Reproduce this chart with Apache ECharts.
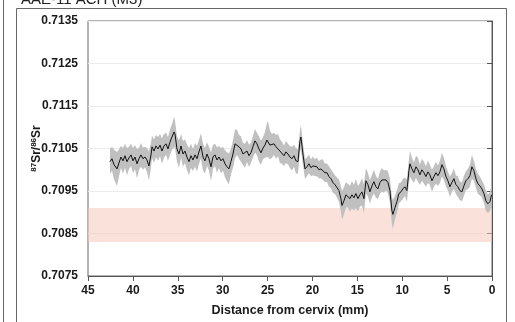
<!DOCTYPE html>
<html>
<head>
<meta charset="utf-8">
<script src="https://cdn.jsdelivr.net/npm/echarts@6/dist/echarts.min.js"></script>
<style>
html,body{margin:0;padding:0;background:#fff;}
#c{width:515px;height:322px;}
</style>
</head>
<body>
<div id="c"></div>
<script>
// Distance from cervix (mm)
var distance = [42.55,42.33,42.10,41.77,41.55,41.33,41.10,40.88,40.66,40.43,
40.21,39.99,39.77,39.54,39.32,39.10,38.88,38.65,38.43,38.21,
37.98,37.87,37.65,37.43,37.20,36.98,36.76,36.54,36.31,36.09,
35.87,35.65,35.42,35.31,35.09,34.87,34.64,34.42,34.20,33.98,
33.75,33.53,33.31,33.08,32.86,32.64,32.42,32.19,31.97,31.75,
31.53,31.30,31.08,30.86,30.63,30.41,30.19,29.97,29.74,29.52,
29.30,29.08,28.85,28.63,28.41,28.18,27.96,27.74,27.52,27.29,
27.07,26.85,26.63,26.40,26.18,25.96,25.73,25.51,25.29,25.07,
24.96,24.73,24.51,24.29,24.06,23.84,23.62,23.40,23.17,22.95,
22.73,22.51,22.28,22.06,21.84,21.61,21.39,21.28,21.06,20.83,
20.61,20.39,20.17,19.94,19.72,19.50,19.28,19.05,18.83,18.61,
18.38,18.16,17.94,17.72,17.49,17.27,17.05,16.83,16.71,16.49,
16.27,16.05,15.82,15.60,15.38,15.16,14.93,14.71,14.49,14.26,
14.04,13.82,13.60,13.37,13.15,12.93,12.71,12.48,12.26,12.04,
11.81,11.59,11.37,11.15,11.04,10.81,10.59,10.37,10.14,9.92,
9.70,9.48,9.25,9.14,8.92,8.70,8.47,8.25,8.03,7.81,
7.58,7.36,7.14,6.92,6.69,6.47,6.25,6.02,5.80,5.58,
5.36,5.13,4.91,4.69,4.47,4.24,4.02,3.80,3.58,3.35,
3.13,2.91,2.68,2.46,2.24,2.02,1.79,1.57,1.35,1.12,
0.90,0.68,0.46,0.23,0.05];

// 87Sr/86Sr ratio
var ratio = [0.71019,0.71026,0.71012,0.71002,0.71016,0.71030,0.71021,0.71033,0.71019,0.71028,
0.71035,0.71021,0.71030,0.71014,0.71026,0.71035,0.71026,0.71030,0.71023,0.71009,
0.71035,0.71054,0.71044,0.71056,0.71049,0.71058,0.71044,0.71056,0.71061,0.71049,
0.71065,0.71077,0.71089,0.71084,0.71049,0.71037,0.71056,0.71037,0.71044,0.71030,
0.71019,0.71033,0.71023,0.71035,0.71026,0.71042,0.71056,0.71030,0.71021,0.71037,
0.71026,0.71007,0.71030,0.71035,0.71023,0.71030,0.71021,0.71026,0.71014,0.71007,
0.71002,0.71019,0.71037,0.71061,0.71065,0.71054,0.71049,0.71037,0.71033,0.71044,
0.71033,0.71040,0.71054,0.71068,0.71061,0.71049,0.71040,0.71051,0.71058,0.71070,
0.71072,0.71058,0.71056,0.71061,0.71054,0.71058,0.71044,0.71040,0.71033,0.71042,
0.71037,0.71030,0.71026,0.71033,0.71021,0.71019,0.71068,0.71077,0.71037,0.71002,
0.71007,0.71014,0.71005,0.71009,0.71005,0.71007,0.71000,0.71002,0.71000,0.70993,
0.70993,0.70984,0.70979,0.70970,0.70965,0.70958,0.70951,0.70932,0.70916,0.70927,
0.70941,0.70939,0.70932,0.70941,0.70934,0.70944,0.70932,0.70941,0.70948,0.70932,
0.70974,0.70965,0.70948,0.70962,0.70972,0.70960,0.70955,0.70970,0.70976,0.70972,
0.70976,0.70970,0.70951,0.70904,0.70895,0.70911,0.70925,0.70944,0.70948,0.70955,
0.70960,0.70951,0.70998,0.71014,0.71002,0.70993,0.71007,0.71000,0.70988,0.71000,
0.70993,0.70984,0.70995,0.70988,0.70974,0.70984,0.70993,0.70986,0.70995,0.71012,
0.71002,0.70984,0.70974,0.70960,0.70970,0.70979,0.70965,0.70960,0.70951,0.70948,
0.70962,0.70974,0.70979,0.70986,0.71007,0.70998,0.70979,0.70967,0.70962,0.70955,
0.70944,0.70927,0.70920,0.70925,0.70941];

// 2SE half-width, in units of 1e-4
var err = [3.0,2.8,3.5,4.0,3.2,2.6,3.0,2.8,3.2,2.6,
2.6,3.0,2.8,3.4,2.6,2.8,2.6,2.4,2.8,3.4,
3.0,2.6,2.8,2.6,2.8,2.6,3.0,2.8,2.6,2.8,
3.0,3.0,3.6,3.2,3.0,3.2,2.8,3.0,2.8,3.0,
3.2,2.8,2.6,2.8,3.0,2.8,3.0,3.2,3.0,2.8,
2.8,3.4,2.8,2.6,3.0,2.6,3.0,2.8,3.2,3.4,
3.6,3.0,3.2,3.4,3.0,2.8,3.0,2.6,2.8,2.6,
2.6,2.4,2.6,2.8,2.6,3.0,2.8,2.6,3.0,4.0,
4.2,3.4,2.8,2.6,2.8,2.6,2.8,2.6,2.4,2.6,
2.4,2.6,2.8,2.6,3.0,2.8,2.6,2.8,2.6,2.4,
2.2,2.2,2.0,2.2,2.0,2.2,2.0,2.2,2.4,2.2,
2.2,2.4,2.2,2.4,2.2,2.4,2.6,3.0,3.4,3.2,
3.0,2.8,3.0,3.2,3.0,3.4,3.0,2.8,3.2,3.4,
3.0,2.8,2.8,2.6,2.8,2.6,2.4,2.6,2.8,2.6,
2.4,2.6,2.8,3.2,3.4,2.8,2.6,2.4,2.2,2.4,
2.2,2.6,2.8,3.0,2.6,2.4,2.6,2.8,2.4,2.6,
2.6,2.4,2.6,2.4,2.6,2.4,2.6,2.4,2.6,2.8,
2.6,2.4,2.2,2.4,2.2,2.4,2.2,2.4,2.2,2.2,
2.4,2.2,2.4,2.6,2.8,2.4,2.2,2.4,2.2,2.0,
2.2,2.4,2.2,2.2,2.4];

// Local bioavailable range
var bandRange = [0.7083, 0.7091];
var yTicks = [0.7075, 0.7085, 0.7095, 0.7105, 0.7115, 0.7125, 0.7135];
var xTicks = [45, 40, 35, 30, 25, 20, 15, 10, 5, 0];
var titleText = 'AAE-11 ACH (M3)';

var lineData = [];
for (var i = 0; i < distance.length; i++) lineData.push([distance[i], ratio[i]]);

var chart = echarts.init(document.getElementById('c'), null, {renderer: 'canvas'});
var font = '"Liberation Sans", Arial, sans-serif';
chart.setOption({
  animation: false,
  backgroundColor: '#fff',
  title: {
    text: titleText, left: 16, top: -13,
    textStyle: {fontFamily: font, fontSize: 15, fontWeight: 'normal', color: '#222'}
  },
  graphic: [
    {type: 'rect', shape: {x: 16.5, y: 8.5, width: 490, height: 330}, style: {fill: null, stroke: '#666', lineWidth: 1}, z: -1},
    {type: 'line', shape: {x1: 3.5, y1: 0, x2: 3.5, y2: 322}, style: {stroke: '#666', lineWidth: 1}, z: -1}
  ],
  grid: {left: 88, right: 23, top: 21, bottom: 44, show: true, borderColor: '#666', borderWidth: 1, backgroundColor: '#fff'},
  xAxis: {
    type: 'value', inverse: true, min: xTicks[xTicks.length - 1], max: xTicks[0], interval: 5,
    name: 'Distance from cervix (mm)', nameLocation: 'middle', nameGap: 28, nameMoveOverlap: false,
    nameTextStyle: {fontFamily: font, fontSize: 12.5, fontWeight: 'bold', color: '#1a1a1a'},
    axisLine: {lineStyle: {color: '#555'}},
    axisTick: {show: true, length: 5, lineStyle: {color: '#555'}},
    axisLabel: {fontFamily: font, fontSize: 12, fontWeight: 'bold', color: '#1a1a1a', margin: 9},
    splitLine: {show: false}
  },
  yAxis: {
    type: 'value', min: yTicks[0], max: yTicks[yTicks.length - 1], interval: 0.001,
    name: '{sup|87}{b|Sr/}{sup|86}{b|Sr}', nameLocation: 'middle', nameGap: 44, nameMoveOverlap: false,
    nameTextStyle: {
      rich: {
        sup: {fontFamily: font, fontSize: 8, fontWeight: 'bold', color: '#1a1a1a', verticalAlign: 'top', lineHeight: 14},
        b: {fontFamily: font, fontSize: 12, fontWeight: 'bold', color: '#1a1a1a', lineHeight: 14}
      }
    },
    axisLine: {show: true, lineStyle: {color: '#555'}},
    axisTick: {show: true, length: 5, lineStyle: {color: '#555'}},
    axisLabel: {fontFamily: font, fontSize: 12, fontWeight: 'bold', color: '#1a1a1a', margin: 10,
      formatter: function (v) { return v.toFixed(4); }},
    splitLine: {show: true, lineStyle: {color: '#ececec', width: 1}}
  },
  series: [
    {
      type: 'custom', silent: true, z: 1,
      data: [[xTicks[0], bandRange[0]]],
      renderItem: function (params, api) {
        var p1 = api.coord([xTicks[0], bandRange[1]]);
        var p2 = api.coord([xTicks[xTicks.length - 1], bandRange[0]]);
        return {type: 'rect',
          shape: {x: Math.min(p1[0], p2[0]), y: Math.min(p1[1], p2[1]), width: Math.abs(p2[0] - p1[0]), height: Math.abs(p2[1] - p1[1])},
          style: {fill: 'rgba(246, 200, 186, 0.55)'}};
      }
    },
    {
      type: 'custom', silent: true, z: 2,
      data: [[distance[0], ratio[0]]],
      renderItem: function (params, api) {
        var up = [], lo = [];
        for (var i = 0; i < distance.length; i++) {
          var e = err[i] * 1e-4;
          up.push(api.coord([distance[i], ratio[i] + e]));
          lo.unshift(api.coord([distance[i], ratio[i] - e]));
        }
        return {type: 'polygon', shape: {points: up.concat(lo)}, style: {fill: '#c0c0c0', stroke: null}};
      }
    },
    {
      type: 'line', data: lineData, symbol: 'none', z: 3,
      lineStyle: {color: '#111', width: 1}, silent: true
    }
  ]
});
</script>
</body>
</html>
